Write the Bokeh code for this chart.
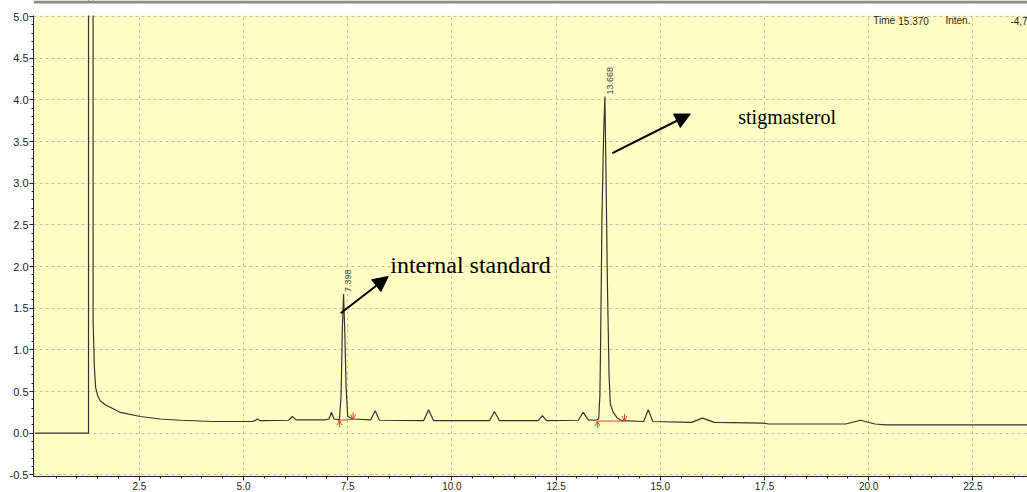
import numpy as np
from bokeh.plotting import figure
from bokeh.models import (FixedTicker, Range1d, Arrow, NormalHead, OpenHead,
                          ColumnDataSource, NumeralTickFormatter, BoxAnnotation)
from bokeh.core.properties import value
from bokeh.embed import file_html
from bokeh.resources import INLINE

# ---- chromatogram trace (retention time in min, intensity x 1e6) ----
time_min = [0.0, 1.28, 1.28, 1.39, 1.39, 1.42, 1.45, 1.50, 1.56, 1.68,
            1.80, 2.04, 2.52, 3.00, 3.48, 4.27, 5.20, 5.27, 5.33, 5.40,
            5.50, 6.08, 6.17, 6.26, 6.95, 7.05, 7.11, 7.17, 7.30, 7.34,
            7.37, 7.40, 7.43, 7.46, 7.50, 7.63, 8.05, 8.16, 8.26, 9.32,
            9.44, 9.56, 10.90, 11.02, 11.14, 12.07, 12.17, 12.27, 13.03, 13.15,
            13.27, 13.45, 13.52, 13.55, 13.57, 13.60, 13.64, 13.67, 13.70, 13.73,
            13.77, 13.80, 13.87, 13.97, 14.08, 14.60, 14.71, 14.82, 15.75, 16.01,
            16.30, 17.47, 17.60, 19.45, 19.80, 20.15, 20.40, 23.85]
intensity = [0.0, 0.0, 6.0, 6.0, 1.35, 0.80, 0.55, 0.45, 0.39, 0.34,
             0.31, 0.25, 0.20, 0.17, 0.155, 0.14, 0.14, 0.15, 0.17, 0.15,
             0.15, 0.155, 0.20, 0.16, 0.16, 0.17, 0.25, 0.17, 0.16, 0.45,
             1.25, 1.67, 1.20, 0.55, 0.20, 0.17, 0.16, 0.27, 0.155, 0.15,
             0.28, 0.15, 0.15, 0.26, 0.15, 0.15, 0.21, 0.15, 0.155, 0.25,
             0.16, 0.155, 0.17, 0.45, 1.20, 2.60, 3.60, 4.04, 3.00, 1.80,
             0.70, 0.35, 0.25, 0.18, 0.15, 0.14, 0.28, 0.14, 0.13, 0.18,
             0.13, 0.12, 0.11, 0.11, 0.155, 0.11, 0.10, 0.10]

# ---- identified peaks ----
peak_times = [7.398, 13.668]
peak_heights = [1.67, 4.04]
peak_labels = ["7.398", "13.668"]

# integration baselines (start / end time and level)
integ_start = [7.30, 13.49]
integ_end = [7.63, 14.14]
integ_start_level = [0.155, 0.145]
integ_end_level = [0.165, 0.145]

# compound annotations
compound_names = ["internal standard", "stigmasterol"]
name_sizes = ["24px", "20px"]
name_t = [8.52, 16.87]
name_v = [2.02, 3.80]
pointer_from_t = [7.33, 13.85]
pointer_from_v = [1.44, 3.36]
pointer_to_t = [8.47, 15.72]
pointer_to_v = [1.88, 3.83]

# cursor readout
readout_text = ["Time", "15.370", "Inten.", "-4,7"]
readout_t = [20.11, 20.71, 21.84, 23.40]

x_major = [2.5, 5.0, 7.5, 10.0, 12.5, 15.0, 17.5, 20.0, 22.5]
x_minor = [round(0.5 * i, 1) for i in range(1, 48)]
y_major = [-0.5, 0.0, 0.5, 1.0, 1.5, 2.0, 2.5, 3.0, 3.5, 4.0, 4.5, 5.0]
y_minor = [round(-0.5 + 0.1 * i, 1) for i in range(0, 56)]

BG = "#FFFFC4"
RED = "#E0452F"

Y_LO, Y_HI, Y_TOP = -0.52, 5.012, 5.192

p = figure(width=1027, height=492, output_backend="svg", toolbar_location=None,
           x_range=Range1d(-0.04, 23.81), y_range=Range1d(Y_LO, Y_TOP),
           min_border_left=33, min_border_right=0, min_border_top=0,
           min_border_bottom=12)
p.background_fill_color = BG
p.border_fill_color = "white"
p.outline_line_color = None

# white strip above the plot area, with the window frame bar at the very top
p.add_layout(BoxAnnotation(bottom=Y_HI, fill_color="white", fill_alpha=1.0,
                           line_color=None, level="overlay"))
p.add_layout(BoxAnnotation(bottom=Y_TOP - 3.0 / 83.3, fill_color="#8C8C8C",
                           fill_alpha=1.0, line_color=None, level="overlay"))

for ax, maj, mn in ((p.xaxis[0], x_major, x_minor), (p.yaxis[0], y_major, y_minor)):
    ax.ticker = FixedTicker(ticks=maj, minor_ticks=mn)
    ax.formatter = NumeralTickFormatter(format="0.0")
    ax.axis_line_color = "#222222"
    ax.major_tick_line_color = "#222222"
    ax.minor_tick_line_color = "#222222"
    ax.major_tick_out = 4
    ax.major_tick_in = 0
    ax.minor_tick_out = 2
    ax.minor_tick_in = 0
    ax.major_label_standoff = 1
    ax.major_label_text_font = "Liberation Sans"
    ax.major_label_text_color = "#222222"
p.yaxis[0].bounds = (Y_LO, Y_HI)
p.yaxis[0].major_label_text_font_size = "11px"
p.xaxis[0].major_label_text_font_size = "10px"

for g in (p.xgrid[0], p.ygrid[0]):
    g.grid_line_color = "#BEBEB0"
    g.grid_line_dash = "3 3"
    g.grid_line_width = 1

# trace
p.line(time_min, intensity, line_color="#333333", line_width=1.2)

# integration baselines and marks
p.segment(x0=integ_start, y0=integ_start_level, x1=integ_end, y1=integ_end_level,
          line_color=RED, line_width=1)
mark_len = 0.085
up_src = ColumnDataSource(dict(x=integ_start,
                               y0=[v - mark_len for v in integ_start_level],
                               y1=integ_start_level))
dn_src = ColumnDataSource(dict(x=integ_end,
                               y0=[v + mark_len for v in integ_end_level],
                               y1=integ_end_level))
for src in (up_src, dn_src):
    p.add_layout(Arrow(source=src, x_start="x", y_start="y0", x_end="x", y_end="y1",
                       line_color=RED, line_width=1,
                       end=OpenHead(size=5, line_color=RED, line_width=1)))

# peak retention-time labels
p.text(x=peak_times, y=peak_heights, text=peak_labels, angle=np.pi / 2,
       x_offset=2, y_offset=-2, text_align="left", text_baseline="top",
       text_font=value("Liberation Sans"), text_font_size="9px",
       text_color="#444444")

# compound pointers
ptr_src = ColumnDataSource(dict(x0=pointer_from_t, y0=pointer_from_v,
                                x1=pointer_to_t, y1=pointer_to_v))
p.add_layout(Arrow(source=ptr_src, x_start="x0", y_start="y0", x_end="x1", y_end="y1",
                   line_color="black", line_width=2,
                   end=NormalHead(size=15, fill_color="black", line_color="black")))
name_src = ColumnDataSource(dict(x=name_t, y=name_v, text=compound_names, size=name_sizes))
p.text(x="x", y="y", text="text", text_font_size="size", source=name_src,
       text_align="left", text_baseline="middle",
       text_font=value("Liberation Serif"), text_color="black")

# cursor readout
p.text(x=readout_t, y=[4.95] * len(readout_t), text=readout_text, text_align="left",
       text_baseline="middle", text_font=value("Liberation Sans"),
       text_font_size="10px", text_color="#222222")

open("out.html", "w").write(file_html(p, INLINE))
